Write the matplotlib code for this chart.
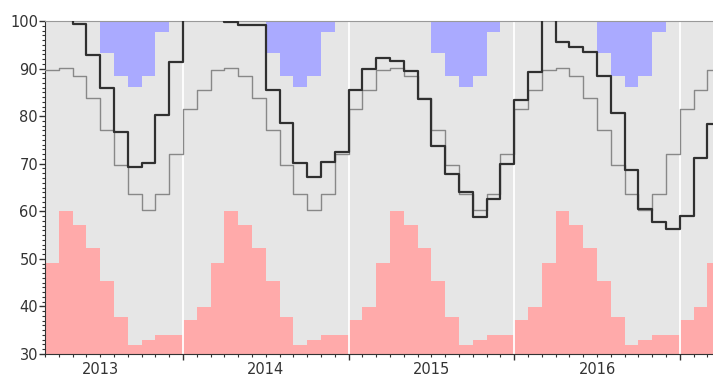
import numpy as np
import matplotlib.pyplot as plt
from matplotlib.ticker import MultipleLocator

# months are counted from Jan 2013 (0 = Jan 2013), data starts in March 2013
years = [2013, 2014, 2015, 2016]
start_month = 2

# monthly climatology, Jan..Dec (same every year)
pink_clim = [37.1, 39.9, 49.2, 60.0, 57.2, 52.2, 45.4, 37.8, 31.9, 32.9, 34.0, 34.0]
blue_clim = [100, 100, 100, 100, 100, 100, 93.2, 88.5, 86.2, 88.5, 97.7, 100]
gray_clim = [81.4, 85.6, 89.7, 90.2, 88.4, 83.8, 77.0, 69.8, 63.7, 60.3, 63.7, 72.1]

# actual monthly values (black line)
black_2013 = [103, 103, 99.4, 92.8, 86.0, 76.7, 69.3, 70.1, 80.2, 91.4]  # Mar-Dec
black_2014 = [104, 104, 104, 99.8, 99.2, 99.1, 85.6, 78.6, 70.1, 67.2, 70.3, 72.4]
black_2015 = [85.6, 90.0, 92.3, 91.6, 89.5, 83.7, 73.8, 67.8, 64.0, 58.7, 62.6, 70.0]
black_2016 = [83.3, 89.3, 104, 95.6, 94.6, 93.5, 88.4, 80.7, 68.7, 60.5, 57.7, 56.3]
black_2017 = [59.1, 71.1, 78.4]  # Jan-Mar

black = black_2013 + black_2014 + black_2015 + black_2016 + black_2017
n = len(black)
months = np.arange(start_month, start_month + n)

pink = [pink_clim[m % 12] for m in months]
blue = [blue_clim[m % 12] for m in months]
gray = [gray_clim[m % 12] for m in months]

# extra point so the last step is drawn to its end
x = np.append(months, months[-1] + 1)
def ext(v):
    return np.append(v, v[-1])

fig = plt.figure(figsize=(7.13, 3.76), dpi=100)
ax = fig.add_axes([45 / 713, 22 / 376, 668 / 713, 333 / 376])
ax.set_facecolor('#e6e6e6')

ax.fill_between(x, 30, ext(pink), step='post', color='#ffaaaa', lw=0, zorder=1)
ax.fill_between(x, ext(blue), 100, step='post', color='#aaaaff', lw=0, zorder=1)

for i in range(1, len(years) + 1):
    ax.axvline(12 * i, color='white', lw=1.3, zorder=2)

ax.step(x, ext(gray), where='post', color='#888888', lw=1.0, zorder=3)
ax.step(x, ext(black), where='post', color='#303030', lw=1.6, zorder=4)

ax.set_xlim(start_month, 50.4)
ax.set_ylim(30, 100)

ax.set_xticks([12 * i for i in range(1, len(years) + 1)])
ax.set_xticklabels([])
ax.xaxis.set_minor_locator(MultipleLocator(1))
ax.set_yticks(range(30, 101, 10))
ax.yaxis.set_minor_locator(MultipleLocator(1))
ax.tick_params(axis='both', which='major', length=4, width=1, color='#333333',
               labelsize=10.5, labelcolor='#333333', pad=1)
ax.tick_params(axis='both', which='minor', length=2, width=0.8, color='#333333')

for i, yr in enumerate(years):
    ax.annotate(str(yr), xy=(12 * i + 6, 30), xycoords='data',
                xytext=(0, -6), textcoords='offset points',
                ha='center', va='top', fontsize=10.5, color='#333333')

ax.spines['right'].set_visible(False)
ax.spines['top'].set_color('#999999')
ax.spines['left'].set_color('#333333')
ax.spines['bottom'].set_color('#333333')

fig.savefig('out.png', dpi=100)
